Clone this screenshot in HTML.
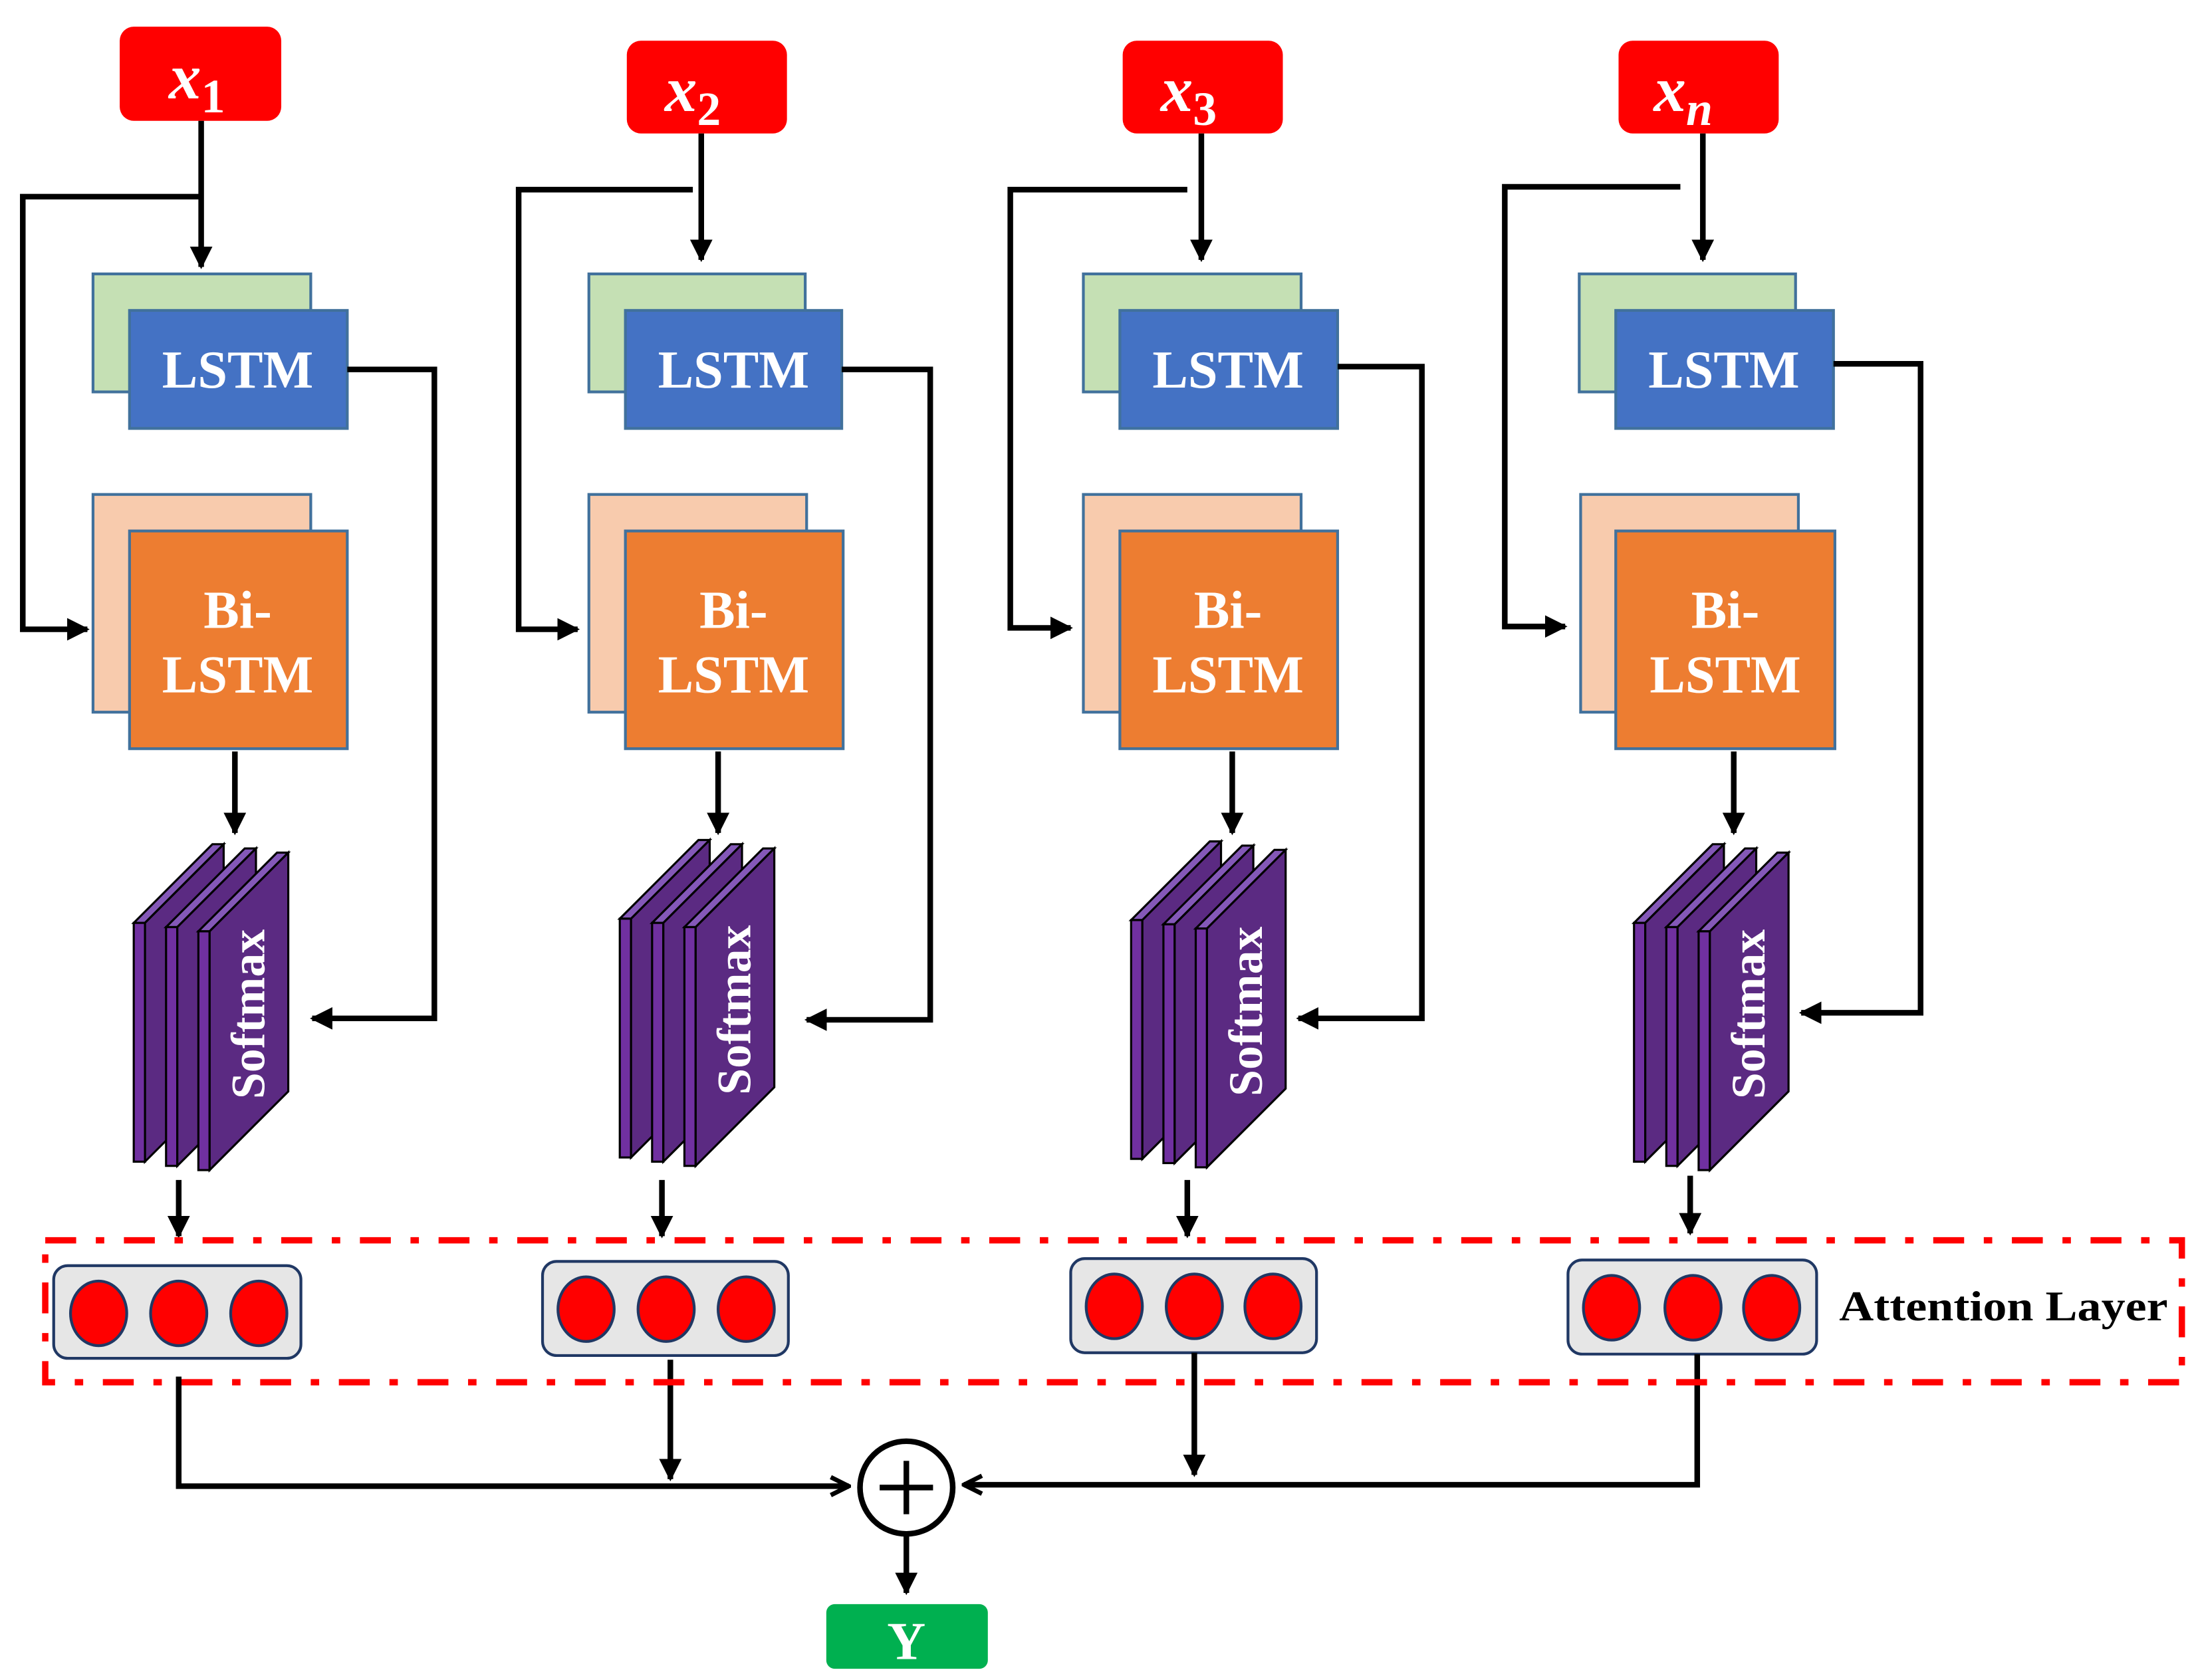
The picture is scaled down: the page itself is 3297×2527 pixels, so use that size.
<!DOCTYPE html>
<html><head><meta charset="utf-8"><style>html,body{margin:0;padding:0;background:#fff}svg{display:block}</style></head>
<body>
<svg width="3297" height="2527" viewBox="0 0 1560 1196" xmlns="http://www.w3.org/2000/svg" font-family="'Liberation Serif', serif">
<defs>
<marker id="ah" viewBox="0 0 10 10" refX="9" refY="5" markerWidth="4" markerHeight="4" orient="auto" markerUnits="strokeWidth"><path d="M0,0 L10,5 L0,10 Z" fill="#000"/></marker>
<marker id="ao" viewBox="0 0 10 10" refX="9" refY="5" markerWidth="4" markerHeight="5" orient="auto" markerUnits="strokeWidth"><path d="M1,1 L9,5 L1,9" fill="none" stroke="#000" stroke-width="2"/></marker>
<g id="slab"><polygon points="0,0 8,0 64,-56 56,-56" fill="#8458b8" stroke="#000" stroke-width="1.5"/>
<rect x="0" y="0" width="8" height="170" fill="#7030a0" stroke="#000" stroke-width="1.5"/>
<polygon points="8,0 64,-56 64,114 8,170" fill="#5b2a82" stroke="#000" stroke-width="1.5"/></g>
</defs>
<g>
<!-- COLUMN 1 -->
<rect x="85" y="19" width="115" height="67" rx="10" fill="#ff0000"/>
<text x="140" y="70" text-anchor="middle" fill="#fff" font-size="46" font-weight="bold" font-style="italic">x<tspan font-size="34" dy="10" font-style="normal">1</tspan></text>
<path d="M143,86 V190" stroke="#000" stroke-width="4" marker-end="url(#ah)"/>
<path d="M143,140 H16 V448 H62" stroke="#000" stroke-width="4" fill="none" marker-end="url(#ah)"/>
<rect x="66" y="195" width="155" height="84" fill="#c5e0b4" stroke="#41719c" stroke-width="2"/>
<rect x="92" y="221" width="155" height="84" fill="#4472c4" stroke="#41719c" stroke-width="2"/>
<text x="169" y="276" text-anchor="middle" fill="#fff" font-size="38" font-weight="bold">LSTM</text>
<rect x="66" y="352" width="155" height="155" fill="#f8cbad" stroke="#41719c" stroke-width="2"/>
<rect x="92" y="378" width="155" height="155" fill="#ed7d31" stroke="#41719c" stroke-width="2"/>
<text x="169" y="447" text-anchor="middle" fill="#fff" font-size="38" font-weight="bold">Bi-</text>
<text x="169" y="493" text-anchor="middle" fill="#fff" font-size="38" font-weight="bold">LSTM</text>
<path d="M247,263 H309 V725 H222" stroke="#000" stroke-width="4" fill="none" marker-end="url(#ah)"/>
<path d="M167,535 V593" stroke="#000" stroke-width="4" marker-end="url(#ah)"/>
<use href="#slab" x="95" y="657"/><use href="#slab" x="118" y="660"/><use href="#slab" x="141" y="663"/>
<text transform="translate(188,722) rotate(-90)" text-anchor="middle" fill="#fff" font-size="34" font-weight="bold">Softmax</text>
<path d="M127,840 V880" stroke="#000" stroke-width="4" marker-end="url(#ah)"/>
<rect x="38" y="901" width="176" height="66" rx="10" fill="#e6e6e6" stroke="#203864" stroke-width="2"/>
<g fill="#ff0000" stroke="#203864" stroke-width="2"><ellipse cx="70" cy="935" rx="20" ry="23"/><ellipse cx="127" cy="935" rx="20" ry="23"/><ellipse cx="184" cy="935" rx="20" ry="23"/></g>
<path d="M127,980 V1058 H604" stroke="#000" stroke-width="4" fill="none" marker-end="url(#ao)"/>

<!-- COLUMN 2 -->
<rect x="446" y="29" width="114" height="66" rx="10" fill="#ff0000"/>
<text x="493" y="79" text-anchor="middle" fill="#fff" font-size="46" font-weight="bold" font-style="italic">x<tspan font-size="34" dy="10" font-style="normal">2</tspan></text>
<path d="M499,95 V185" stroke="#000" stroke-width="4" marker-end="url(#ah)"/>
<path d="M493,135 H369 V448 H411" stroke="#000" stroke-width="4" fill="none" marker-end="url(#ah)"/>
<rect x="419" y="195" width="154" height="84" fill="#c5e0b4" stroke="#41719c" stroke-width="2"/>
<rect x="445" y="221" width="154" height="84" fill="#4472c4" stroke="#41719c" stroke-width="2"/>
<text x="522" y="276" text-anchor="middle" fill="#fff" font-size="38" font-weight="bold">LSTM</text>
<rect x="419" y="352" width="155" height="155" fill="#f8cbad" stroke="#41719c" stroke-width="2"/>
<rect x="445" y="378" width="155" height="155" fill="#ed7d31" stroke="#41719c" stroke-width="2"/>
<text x="522" y="447" text-anchor="middle" fill="#fff" font-size="38" font-weight="bold">Bi-</text>
<text x="522" y="493" text-anchor="middle" fill="#fff" font-size="38" font-weight="bold">LSTM</text>
<path d="M599,263 H662 V726 H574" stroke="#000" stroke-width="4" fill="none" marker-end="url(#ah)"/>
<path d="M511,535 V593" stroke="#000" stroke-width="4" marker-end="url(#ah)"/>
<use href="#slab" x="441" y="654"/><use href="#slab" x="464" y="657"/><use href="#slab" x="487" y="660"/>
<text transform="translate(534,719) rotate(-90)" text-anchor="middle" fill="#fff" font-size="34" font-weight="bold">Softmax</text>
<path d="M471,840 V880" stroke="#000" stroke-width="4" marker-end="url(#ah)"/>
<rect x="386" y="898" width="175" height="67" rx="10" fill="#e6e6e6" stroke="#203864" stroke-width="2"/>
<g fill="#ff0000" stroke="#203864" stroke-width="2"><ellipse cx="417" cy="932" rx="20" ry="23"/><ellipse cx="474" cy="932" rx="20" ry="23"/><ellipse cx="531" cy="932" rx="20" ry="23"/></g>
<path d="M477,968 V1053" stroke="#000" stroke-width="4" marker-end="url(#ah)"/>

<!-- COLUMN 3 -->
<rect x="799" y="29" width="114" height="66" rx="10" fill="#ff0000"/>
<text x="846" y="79" text-anchor="middle" fill="#fff" font-size="46" font-weight="bold" font-style="italic">x<tspan font-size="34" dy="10" font-style="normal">3</tspan></text>
<path d="M855,95 V185" stroke="#000" stroke-width="4" marker-end="url(#ah)"/>
<path d="M845,135 H719 V447 H762" stroke="#000" stroke-width="4" fill="none" marker-end="url(#ah)"/>
<rect x="771" y="195" width="155" height="84" fill="#c5e0b4" stroke="#41719c" stroke-width="2"/>
<rect x="797" y="221" width="155" height="84" fill="#4472c4" stroke="#41719c" stroke-width="2"/>
<text x="874" y="276" text-anchor="middle" fill="#fff" font-size="38" font-weight="bold">LSTM</text>
<rect x="771" y="352" width="155" height="155" fill="#f8cbad" stroke="#41719c" stroke-width="2"/>
<rect x="797" y="378" width="155" height="155" fill="#ed7d31" stroke="#41719c" stroke-width="2"/>
<text x="874" y="447" text-anchor="middle" fill="#fff" font-size="38" font-weight="bold">Bi-</text>
<text x="874" y="493" text-anchor="middle" fill="#fff" font-size="38" font-weight="bold">LSTM</text>
<path d="M952,261 H1012 V725 H924" stroke="#000" stroke-width="4" fill="none" marker-end="url(#ah)"/>
<path d="M877,535 V593" stroke="#000" stroke-width="4" marker-end="url(#ah)"/>
<use href="#slab" x="805" y="655"/><use href="#slab" x="828" y="658"/><use href="#slab" x="851" y="661"/>
<text transform="translate(898,720) rotate(-90)" text-anchor="middle" fill="#fff" font-size="34" font-weight="bold">Softmax</text>
<path d="M845,840 V880" stroke="#000" stroke-width="4" marker-end="url(#ah)"/>
<rect x="762" y="896" width="175" height="67" rx="10" fill="#e6e6e6" stroke="#203864" stroke-width="2"/>
<g fill="#ff0000" stroke="#203864" stroke-width="2"><ellipse cx="793" cy="930" rx="20" ry="23"/><ellipse cx="850" cy="930" rx="20" ry="23"/><ellipse cx="906" cy="930" rx="20" ry="23"/></g>
<path d="M850,963 V1050" stroke="#000" stroke-width="4" marker-end="url(#ah)"/>

<!-- COLUMN 4 -->
<rect x="1152" y="29" width="114" height="66" rx="10" fill="#ff0000"/>
<text x="1198" y="79" text-anchor="middle" fill="#fff" font-size="46" font-weight="bold" font-style="italic">x<tspan font-size="34" dy="10">n</tspan></text>
<path d="M1212,95 V185" stroke="#000" stroke-width="4" marker-end="url(#ah)"/>
<path d="M1196,133 H1071 V446 H1114" stroke="#000" stroke-width="4" fill="none" marker-end="url(#ah)"/>
<rect x="1124" y="195" width="154" height="84" fill="#c5e0b4" stroke="#41719c" stroke-width="2"/>
<rect x="1150" y="221" width="155" height="84" fill="#4472c4" stroke="#41719c" stroke-width="2"/>
<text x="1227" y="276" text-anchor="middle" fill="#fff" font-size="38" font-weight="bold">LSTM</text>
<rect x="1125" y="352" width="155" height="155" fill="#f8cbad" stroke="#41719c" stroke-width="2"/>
<rect x="1150" y="378" width="156" height="155" fill="#ed7d31" stroke="#41719c" stroke-width="2"/>
<text x="1228" y="447" text-anchor="middle" fill="#fff" font-size="38" font-weight="bold">Bi-</text>
<text x="1228" y="493" text-anchor="middle" fill="#fff" font-size="38" font-weight="bold">LSTM</text>
<path d="M1305,259 H1367 V721 H1282" stroke="#000" stroke-width="4" fill="none" marker-end="url(#ah)"/>
<path d="M1234,535 V593" stroke="#000" stroke-width="4" marker-end="url(#ah)"/>
<use href="#slab" x="1163" y="657"/><use href="#slab" x="1186" y="660"/><use href="#slab" x="1209" y="663"/>
<text transform="translate(1256,722) rotate(-90)" text-anchor="middle" fill="#fff" font-size="34" font-weight="bold">Softmax</text>
<path d="M1203,837 V878" stroke="#000" stroke-width="4" marker-end="url(#ah)"/>
<rect x="1116" y="897" width="177" height="67" rx="10" fill="#e6e6e6" stroke="#203864" stroke-width="2"/>
<g fill="#ff0000" stroke="#203864" stroke-width="2"><ellipse cx="1147" cy="931" rx="20" ry="23"/><ellipse cx="1205" cy="931" rx="20" ry="23"/><ellipse cx="1261" cy="931" rx="20" ry="23"/></g>
<path d="M1208,964 V1057 H686" stroke="#000" stroke-width="4" fill="none" marker-end="url(#ao)"/>
</g>

<rect x="32" y="883" width="1521" height="101" fill="none" stroke="#ff0000" stroke-width="4.5" stroke-dasharray="22,14,6,14"/>
<text x="1309" y="940" font-size="30" font-weight="bold" fill="#000" textLength="234" lengthAdjust="spacingAndGlyphs">Attention Layer</text>

<circle cx="645" cy="1059" r="33" fill="#fff" stroke="#000" stroke-width="4"/>
<path d="M626,1059 H664 M645,1040 V1078" stroke="#000" stroke-width="4"/>
<path d="M645,1092 V1134" stroke="#000" stroke-width="4" marker-end="url(#ah)"/>
<rect x="588" y="1142" width="115" height="46" rx="6" fill="#00b050"/>
<text x="645" y="1181" text-anchor="middle" fill="#fff" font-size="38" font-weight="bold">Y</text>
</svg>
</body></html>
